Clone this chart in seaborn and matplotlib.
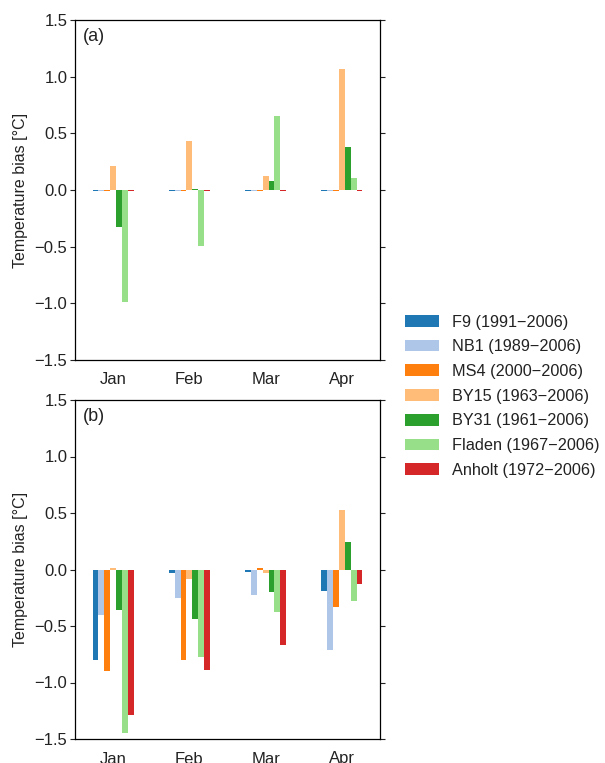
import numpy as np
import pandas as pd
import matplotlib
matplotlib.use("Agg")
import matplotlib.pyplot as plt
import seaborn as sns

months = ["Jan", "Feb", "Mar", "Apr"]
stations = ["F9 (1991\u22122006)", "NB1 (1989\u22122006)", "MS4 (2000\u22122006)",
            "BY15 (1963\u22122006)", "BY31 (1961\u22122006)", "Fladen (1967\u22122006)",
            "Anholt (1972\u22122006)"]
colors = ["#1f77b4", "#aec7e8", "#ff7f0e", "#ffbb78", "#2ca02c", "#98df8a", "#d62728"]

# panel (a) values per station: Jan, Feb, Mar, Apr
a_F9 = [-0.01, -0.01, -0.01, -0.01]
a_NB1 = [-0.01, -0.01, -0.01, -0.01]
a_MS4 = [-0.01, -0.01, -0.01, -0.01]
a_BY15 = [0.215, 0.43, 0.125, 1.07]
a_BY31 = [-0.325, 0.01, 0.08, 0.38]
a_Fladen = [-0.99, -0.49, 0.655, 0.105]
a_Anholt = [-0.01, -0.01, -0.01, -0.01]

# panel (b)
b_F9 = [-0.805, -0.035, -0.024, -0.19]
b_NB1 = [-0.40, -0.255, -0.23, -0.715]
b_MS4 = [-0.90, -0.805, 0.01, -0.335]
b_BY15 = [0.015, -0.08, -0.035, 0.53]
b_BY31 = [-0.355, -0.435, -0.195, 0.24]
b_Fladen = [-1.45, -0.77, -0.38, -0.275]
b_Anholt = [-1.29, -0.885, -0.665, -0.125]

def frame(series):
    rows = []
    for st, vals in zip(stations, series):
        for m, v in zip(months, vals):
            rows.append({"month": m, "station": st, "bias": v})
    return pd.DataFrame(rows)

df_a = frame([a_F9, a_NB1, a_MS4, a_BY15, a_BY31, a_Fladen, a_Anholt])
df_b = frame([b_F9, b_NB1, b_MS4, b_BY15, b_BY31, b_Fladen, b_Anholt])

sns.set_theme(style="white")
plt.rcParams["font.family"] = ["Liberation Sans", "DejaVu Sans"]
plt.rcParams["axes.unicode_minus"] = True

fig = plt.figure(figsize=(6.05, 7.63), dpi=100)
ax_a = fig.add_axes([75/605, 1-360/763, 305/605, 340/763])
ax_b = fig.add_axes([75/605, 1-739/763, 305/605, 339/763])

for ax, df, lab in [(ax_a, df_a, "(a)"), (ax_b, df_b, "(b)")]:
    sns.barplot(data=df, x="month", y="bias", hue="station", order=months,
                hue_order=stations, palette=colors, saturation=1, width=0.54,
                ax=ax, legend=(ax is ax_a), linewidth=0)
    ax.set_ylim(-1.5, 1.5)
    ax.set_xlim(-0.5, 3.5)
    ax.set_yticks([-1.5, -1.0, -0.5, 0.0, 0.5, 1.0, 1.5])
    ax.set_yticklabels(["\u22121.5", "\u22121.0", "\u22120.5", "0.0", "0.5", "1.0", "1.5"])
    ax.set_xlabel("")
    ax.set_ylabel("Temperature bias [\u00b0C]", fontsize=11.5, color="#222222")
    ax.yaxis.set_label_coords(-0.155, 0.5)
    ax.tick_params(axis="y", which="both", direction="out", length=3.5, width=0.8,
                   left=True, right=True, labelleft=True, labelright=False,
                   labelsize=12, colors="#222222", pad=2)
    ax.tick_params(axis="x", length=0, labelsize=12, colors="#222222", pad=9)
    for s in ax.spines.values():
        s.set_visible(True)
        s.set_color("black")
        s.set_linewidth(0.9)
    ax.text(0.025, 0.975, lab, transform=ax.transAxes, fontsize=13,
            ha="left", va="top", color="#222222")

handles, labels = ax_a.get_legend_handles_labels()
ax_a.get_legend().remove()
fig.legend(handles, labels, loc="upper left", bbox_to_anchor=(398/605, 1-308/763),
           frameon=False, fontsize=11.7, handlelength=2.1, handleheight=0.74,
           labelspacing=0.6, handletextpad=0.8, borderaxespad=0,
           labelcolor="#222222")

fig.savefig("out.png", dpi=100)
